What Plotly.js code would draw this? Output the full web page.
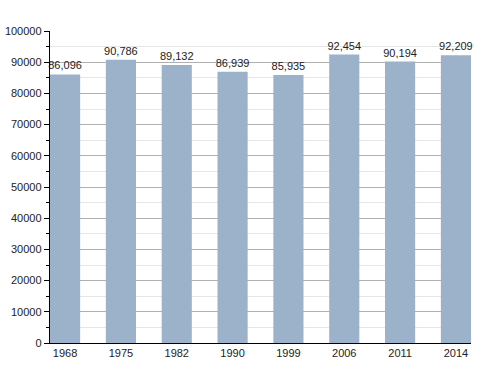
<!DOCTYPE html>
<html>
<head>
<meta charset="utf-8">
<script src="https://cdn.plot.ly/plotly-3.0.1.min.js"></script>
<style>html,body{margin:0;padding:0;background:#fff;}#chart{width:500px;height:373px;}</style>
</head>
<body>
<div id="chart"></div>
<script>
const years = ["1968", "1975", "1982", "1990", "1999", "2006", "2011", "2014"];
const population = [86096, 90786, 89132, 86939, 85935, 92454, 90194, 92209];
const yTicks = [0, 10000, 20000, 30000, 40000, 50000, 60000, 70000, 80000, 90000, 100000];

const trace = {
  type: 'bar',
  x: years,
  y: population,
  width: 0.54,
  marker: {color: '#9cb2cb', line: {width: 0}},
  text: population.map(v => v.toLocaleString('en-US')),
  textposition: 'outside',
  constraintext: 'none',
  textfont: {family: 'Liberation Sans, Arial, sans-serif', size: 11, color: '#222'},
  cliponaxis: false,
  hoverinfo: 'none'
};

const layout = {
  width: 500, height: 373,
  margin: {l: 50, r: 29, t: 31, b: 30},
  paper_bgcolor: '#fff', plot_bgcolor: '#fff',
  showlegend: false,
  font: {family: 'Liberation Sans, Arial, sans-serif', size: 11, color: '#222'},
  xaxis: {
    type: 'category',
    range: [-0.27, 7.27],
    showline: true, linecolor: '#000', linewidth: 1.2,
    ticks: '', showgrid: false, zeroline: false,
    tickfont: {size: 11, color: '#222'}
  },
  yaxis: {
    range: [0, 100000],
    tickvals: yTicks,
    ticktext: yTicks.map(String),
    showline: true, linecolor: '#000', linewidth: 1.2,
    ticks: 'outside', ticklen: 5, tickcolor: '#000', tickwidth: 1,
    showgrid: true, gridcolor: '#b0b0b0', gridwidth: 1,
    zeroline: false,
    minor: {dtick: 5000, tick0: 0, ticks: 'outside', ticklen: 3, tickcolor: '#000', showgrid: true, gridcolor: '#e6e6e6', gridwidth: 1},
    tickfont: {size: 11, color: '#222'}
  }
};

Plotly.newPlot('chart', [trace], layout, {displayModeBar: false, staticPlot: true});
</script>
</body>
</html>
